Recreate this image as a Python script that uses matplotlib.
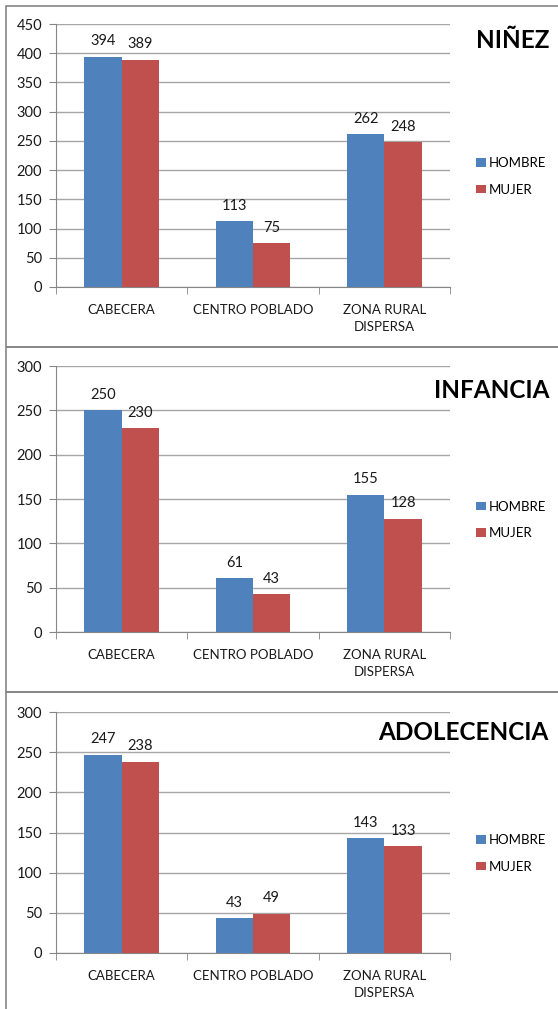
import numpy as np
import matplotlib
matplotlib.use("Agg")
import matplotlib.pyplot as plt
from matplotlib.patches import Rectangle

plt.rcParams['font.family'] = ['Lato', 'DejaVu Sans']

CATEGORIES = ['CABECERA', 'CENTRO POBLADO', 'ZONA RURAL\nDISPERSA']
SERIES = ['HOMBRE', 'MUJER']
COLOURS = ['#4f81bd', '#c0504d']

TITLES = ['NIÑEZ', 'INFANCIA', 'ADOLECENCIA']
HOMBRE = [[394, 113, 262], [250, 61, 155], [247, 43, 143]]
MUJER = [[389, 75, 248], [230, 43, 128], [238, 49, 133]]
YMAX = [450, 300, 300]

W, H = 558, 1009
fig = plt.figure(figsize=(W / 100, H / 100), dpi=100)

# pixel layout: (axes top, axes bottom, panel top, panel bottom, title y)
PANELS = [(24, 287, 6, 347, 41), (366, 632, 347, 692, 391), (712, 953, 692, 1012, 733)]
AX_LEFT, AX_RIGHT = 56, 450


def px(x0, y0, x1, y1):
    return [x0 / W, 1 - y1 / H, (x1 - x0) / W, (y1 - y0) / H]


grey = '#868686'
txt = '#1a1a1a'
for p, (top, bot, ptop, pbot, ty) in enumerate(PANELS):
    # panel frame
    fig.patches.append(Rectangle((6 / W, 1 - pbot / H), (W + 10 - 6) / W, (pbot - ptop) / H,
                                 transform=fig.transFigure, fill=False,
                                 edgecolor=grey, linewidth=1.2))
    ax = fig.add_axes(px(AX_LEFT, top, AX_RIGHT, bot))
    x = np.arange(len(CATEGORIES))
    bw = 0.285
    b1 = ax.bar(x - bw / 2, HOMBRE[p], bw, color=COLOURS[0], label=SERIES[0], zorder=3)
    b2 = ax.bar(x + bw / 2, MUJER[p], bw, color=COLOURS[1], label=SERIES[1], zorder=3)
    for bars in (b1, b2):
        for r in bars:
            ax.annotate(str(int(r.get_height())), (r.get_x() + r.get_width() / 2, r.get_height()),
                        xytext=(0, 6), textcoords='offset points', ha='center', va='bottom',
                        fontsize=10.5, color=txt)
    ax.set_xlim(-0.5, len(CATEGORIES) - 0.5)
    ax.set_ylim(0, YMAX[p])
    ax.set_yticks(np.arange(0, YMAX[p] + 1, 50))
    ax.yaxis.grid(True, color='#a6a6a6', linewidth=1, zorder=0)
    ax.set_axisbelow(True)
    ax.set_xticks(x)
    ax.set_xticklabels(CATEGORIES, fontsize=9.5, color=txt, linespacing=1.55)
    ax.set_xticks(np.arange(-0.5, len(CATEGORIES), 1), minor=True)
    ax.tick_params(axis='x', which='major', length=0, pad=12)
    ax.tick_params(axis='x', which='minor', length=5, color=grey)
    ax.tick_params(axis='y', length=5, color=grey, labelsize=10.5, labelcolor=txt, pad=5)
    for s in ('top', 'right'):
        ax.spines[s].set_visible(False)
    for s in ('left', 'bottom'):
        ax.spines[s].set_color(grey)
    fig.text(549 / W, 1 - ty / H, TITLES[p], ha='right', va='center',
             fontsize=17.5, fontweight='bold', color='black')
    mid = (top + bot) / 2
    ax.legend(loc='center left', bbox_to_anchor=(476 / W, 1 - (mid + 21) / H),
              bbox_transform=fig.transFigure, frameon=False, fontsize=9.5,
              borderpad=0, borderaxespad=0,
              handlelength=0.75, handleheight=0.6, handletextpad=0.2, labelspacing=1.1)

fig.savefig('out.png', dpi=100)
